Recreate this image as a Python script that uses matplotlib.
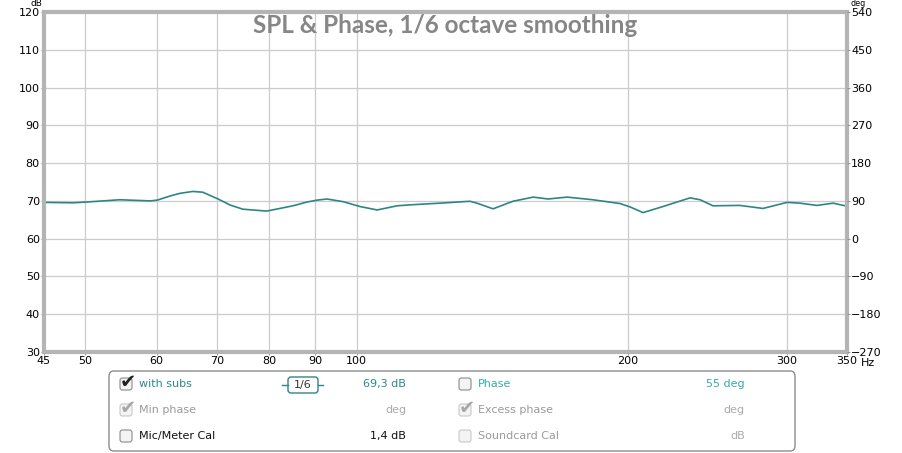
import matplotlib
matplotlib.use("Agg")
import matplotlib.pyplot as plt
from matplotlib.patches import FancyBboxPatch

# SPL curve (Hz, dB)
freq_hz = [45, 48.5, 50.2, 54.6, 59.0, 60.1, 62.1, 63.7, 65.8, 67.5, 70.2, 72.4,
           74.8, 79.5, 85.0, 88.1, 90.4, 92.7, 96.6, 100.9, 105.4, 110.9, 115.5,
           123.8, 133.6, 136.0, 141.7, 149.1, 157.0, 163.1, 171.2, 182.9, 196.0,
           201.1, 207.9, 218.7, 234.4, 240.5, 248.5, 266.3, 282.4, 300.3, 310.4,
           324.2, 337.7, 350]
spl_db = [69.6, 69.5, 69.7, 70.3, 70.0, 70.2, 71.3, 72.0, 72.5, 72.3, 70.5, 68.9,
          67.8, 67.3, 68.7, 69.7, 70.2, 70.5, 69.8, 68.5, 67.6, 68.7, 69.0,
          69.4, 69.9, 69.4, 67.9, 69.9, 71.0, 70.5, 71.0, 70.3, 69.3,
          68.4, 66.9, 68.5, 70.8, 70.3, 68.7, 68.8, 68.0, 69.6, 69.4,
          68.8, 69.4, 68.6]

x_ticks = [45, 50, 60, 70, 80, 90, 100, 200, 300, 350]
db_ticks = list(range(30, 121, 10))
deg_ticks = list(range(-270, 541, 90))

title = "SPL & Phase, 1/6 octave smoothing"
line_color = "#2f8585"
grid_color = "#cccccc"
frame_color = "#b4b4b4"

fig = plt.figure(figsize=(9.02, 4.53), dpi=100)
fig.patch.set_facecolor("white")

ax = fig.add_axes([44 / 902, 1 - 352 / 453, 803 / 902, 340 / 453])
ax.set_xscale("log")
ax.set_xlim(45, 350)
ax.set_ylim(30, 120)
ax.plot(freq_hz, spl_db, color=line_color, lw=1.2)

ax.set_xticks(x_ticks)
ax.set_xticklabels([str(t) for t in x_ticks])
ax.xaxis.set_minor_locator(matplotlib.ticker.NullLocator())
ax.set_yticks(db_ticks)
ax.grid(True, color=grid_color, lw=0.9)
ax.tick_params(length=2, width=0.6, color="#888888", labelsize=8, pad=1)
for s in ax.spines.values():
    s.set_color(frame_color)
    s.set_linewidth(3)

ax2 = ax.twinx()
ax2.set_ylim(-270, 540)
ax2.set_yticks(deg_ticks)
ax2.set_yticklabels(["\u2212" + str(-t) if t < 0 else str(t) for t in deg_ticks])
ax2.tick_params(length=2, width=0.6, color="#888888", labelsize=8, pad=1)
for s in ax2.spines.values():
    s.set_visible(False)

ax.text(0.5, 0.995, title, transform=ax.transAxes, ha="center", va="top",
        fontsize=17.5, fontweight="bold", color="#868686", family="Lato")

# overlay in pixel coordinates for units and the panel below
ov = fig.add_axes([0, 0, 1, 1])
ov.set_xlim(0, 902)
ov.set_ylim(453, 0)
ov.axis("off")
ov.text(36, 6.5, "dB", fontsize=6.5, ha="center", va="baseline")
ov.text(858, 6.3, "deg", fontsize=5.8, ha="center", va="baseline")
ov.text(868, 363.5, "Hz", fontsize=8, ha="center", va="center")

ov.add_patch(FancyBboxPatch((109, 371), 686, 80, boxstyle="round,pad=0,rounding_size=5",
                            fc="white", ec="#8c8c8c", lw=1))


def checkbox(x, y, checked, dim):
    ec = "#c8c8c8" if dim else "#8a8a8a"
    ov.add_patch(FancyBboxPatch((x - 6, y - 6), 12, 12, boxstyle="round,pad=0,rounding_size=2.5",
                                fc="#f4f4f4", ec=ec, lw=0.8))
    if checked:
        ov.text(x + 1.5, y - 2, "\u2714", fontsize=14, ha="center", va="center",
                color="#a8a8a8" if dim else "#222222")


rows = [384, 410, 436]
checkbox(126, rows[0], True, False)
ov.text(139, rows[0], "with subs", fontsize=8, color="#2a8a8a", va="center")
ov.text(406, rows[0], "69,3 dB", fontsize=8, color="#2a8a8a", va="center", ha="right")
ov.add_patch(FancyBboxPatch((288, 377), 30, 16, boxstyle="round,pad=0,rounding_size=3",
                            fc="white", ec=line_color, lw=1))
ov.plot([282, 288], [385, 385], color=line_color, lw=1)
ov.plot([318, 323], [385, 385], color=line_color, lw=1)
ov.text(303, 385, "1/6", fontsize=8, ha="center", va="center", color="#333333")

checkbox(465, rows[0], False, False)
ov.text(478, rows[0], "Phase", fontsize=8, color="#35a9ad", va="center")
ov.text(745, rows[0], "55 deg", fontsize=8, color="#35a9ad", va="center", ha="right")

checkbox(126, rows[1], True, True)
ov.text(139, rows[1], "Min phase", fontsize=8, color="#9a9a9a", va="center")
ov.text(406, rows[1], "deg", fontsize=8, color="#aaaaaa", va="center", ha="right")
checkbox(465, rows[1], True, True)
ov.text(478, rows[1], "Excess phase", fontsize=8, color="#9a9a9a", va="center")
ov.text(745, rows[1], "deg", fontsize=8, color="#aaaaaa", va="center", ha="right")

checkbox(126, rows[2], False, False)
ov.text(139, rows[2], "Mic/Meter Cal", fontsize=8, color="#111111", va="center")
ov.text(406, rows[2], "1,4 dB", fontsize=8, color="#111111", va="center", ha="right")
checkbox(465, rows[2], False, True)
ov.text(478, rows[2], "Soundcard Cal", fontsize=8, color="#9a9a9a", va="center")
ov.text(745, rows[2], "dB", fontsize=8, color="#aaaaaa", va="center", ha="right")

fig.savefig("out.png", dpi=100)
